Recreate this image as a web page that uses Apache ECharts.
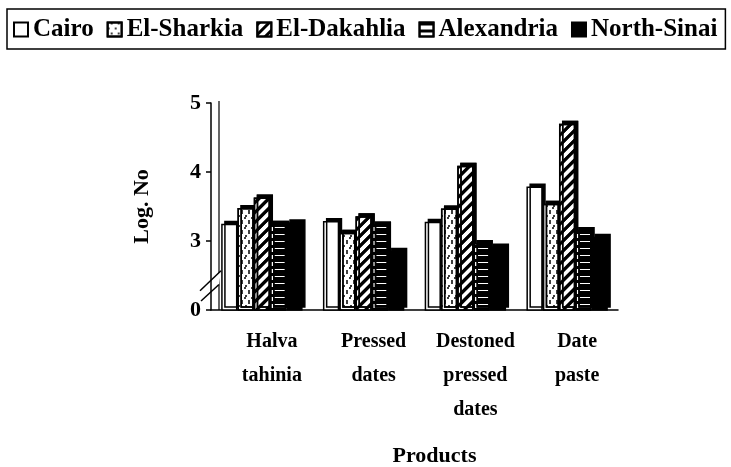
<!DOCTYPE html>
<html>
<head>
<meta charset="utf-8">
<script src="https://cdn.jsdelivr.net/npm/echarts@6/dist/echarts.min.js"></script>
<style>
  html, body { margin: 0; padding: 0; background: #fff; }
  #chart { width: 731px; height: 467px; }
</style>
</head>
<body>
<div id="chart"></div>
<script>
// categories / series
const products = ['Halva\ntahinia', 'Pressed\ndates', 'Destoned\npressed\ndates', 'Date\npaste']
const regions = ['Cairo', 'El-Sharkia', 'El-Dakahlia', 'Alexandria', 'North-Sinai']

const cairo = [3.25, 3.29, 3.28, 3.79]
const elSharkia = [3.48, 3.12, 3.47, 3.54]
const elDakahlia = [3.63, 3.36, 4.09, 4.70]
const alexandria = [3.25, 3.24, 2.97, 3.16]
const northSinai = [3.27, 2.86, 2.92, 3.06]

// broken axis: the bottom of the axis (value 2) is labelled "0"
const yMin = 2
const yMax = 5

const FONT = 'Liberation Serif'

// fill patterns for the black & white print look
const patterns = {
  'Cairo': null,
  'El-Sharkia': {
    symbol: 'circle', symbolSize: 1, color: '#000',
    dashArrayX: [[1.5, 4.5], [0, 3, 1.5, 1.5]],
    dashArrayY: [1.5, 2.5],
  },
  'El-Dakahlia': {
    symbol: 'rect', symbolSize: 1, color: '#000',
    dashArrayX: [1, 0], dashArrayY: [2.5, 4],
    rotation: -Math.PI / 4,
  },
  'Alexandria': {
    symbol: 'rect', symbolSize: 1, color: '#000',
    dashArrayX: [1, 0], dashArrayY: [3, 3.5],
  },
  'North-Sinai': null,
}

const seriesData = [cairo, elSharkia, elDakahlia, alexandria, northSinai]

const chart = echarts.init(document.getElementById('chart'))

const option = {
  backgroundColor: '#fff',
  animation: false,
  legend: {
    data: regions,
    icon: 'rect',
    left: 7,
    top: 9,
    padding: [8, 8, 7, 6],
    itemGap: 13,
    itemWidth: 14,
    itemHeight: 14,
    borderColor: '#000',
    borderWidth: 1.5,
    textStyle: { fontFamily: FONT, fontWeight: 'bold', fontSize: 25, color: '#000' },
  },
  grid: {
    left: 211,
    right: 113,
    top: 103,
    bottom: 157,
    outerBoundsMode: 'none',
  },
  xAxis: {
    type: 'category',
    data: products,
    name: 'Products',
    nameLocation: 'middle',
    nameGap: 135,
    nameTextStyle: {
      fontFamily: FONT, fontWeight: 'bold', fontSize: 22, color: '#000',
      padding: [0, 0, 0, 40],
    },
    axisLine: { lineStyle: { color: '#000', width: 1.5 } },
    axisTick: { length: 6, lineStyle: { color: '#000', width: 1.5 } },
    axisLabel: {
      fontFamily: FONT, fontWeight: 'bold', fontSize: 20, color: '#000',
      lineHeight: 34, margin: 15, padding: [0, 0, 0, 20],
      interval: 0,
    },
  },
  yAxis: {
    type: 'value',
    min: yMin,
    max: yMax,
    interval: 1,
    name: 'Log. No',
    nameLocation: 'middle',
    nameGap: 58,
    nameTextStyle: { fontFamily: FONT, fontWeight: 'bold', fontSize: 22, color: '#000' },
    axisLine: { show: true, lineStyle: { color: '#000', width: 1.5 } },
    axisTick: { show: true, length: 5, lineStyle: { color: '#000', width: 1.5 } },
    splitLine: { show: false },
    axisLabel: {
      fontFamily: FONT, fontWeight: 'bold', fontSize: 22, color: '#000', margin: 10,
      formatter: (v) => (v === yMin ? '0' : String(v)),
    },
  },
  series: regions.map((name, i) => ({
    name,
    type: 'bar',
    data: seriesData[i],
    barGap: '0%',
    barCategoryGap: '20%',
    itemStyle: {
      color: name === 'North-Sinai' ? '#000' : '#fff',
      borderColor: '#000',
      borderWidth: 1.5,
      decal: patterns[name] || undefined,
      // depth of the old 3-D bars
      shadowColor: '#000',
      shadowOffsetX: 3,
      shadowOffsetY: -3,
      shadowBlur: 0,
    },
  })),
}

chart.setOption(option)

// axis break marks and the back wall line, placed from the axis scale
const addDecor = () => {
  const axisX = chart.getModel().getComponent('grid', 0).coordinateSystem.getRect().x
  const yTop = chart.convertToPixel({ yAxisIndex: 0 }, yMax)
  const yBot = chart.convertToPixel({ yAxisIndex: 0 }, yMin)
  const ya = chart.convertToPixel({ yAxisIndex: 0 }, 2.28)
  const yb = chart.convertToPixel({ yAxisIndex: 0 }, 2.57)
  const yc = chart.convertToPixel({ yAxisIndex: 0 }, 2.13)
  const yd = chart.convertToPixel({ yAxisIndex: 0 }, 2.37)
  chart.setOption({
    graphic: [
      { type: 'line', shape: { x1: axisX + 8, y1: yTop - 2, x2: axisX + 8, y2: yBot }, style: { stroke: '#000', lineWidth: 1.2 } },
      { type: 'polygon', shape: { points: [[axisX - 11, ya], [axisX + 10, yb], [axisX + 8, yd], [axisX - 10, yc]] }, style: { fill: '#fff' } },
      { type: 'line', shape: { x1: axisX - 11, y1: ya, x2: axisX + 10, y2: yb }, style: { stroke: '#000', lineWidth: 1.5 } },
      { type: 'line', shape: { x1: axisX - 10, y1: yc, x2: axisX + 8, y2: yd }, style: { stroke: '#000', lineWidth: 1.5 } },
    ],
  })
}
addDecor()
</script>
</body>
</html>
